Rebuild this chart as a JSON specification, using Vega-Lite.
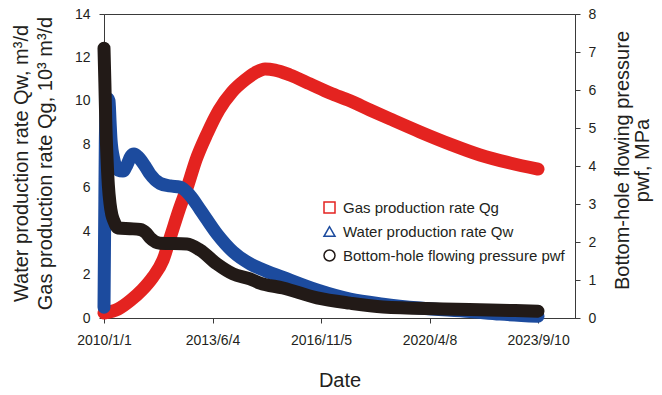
{
  "$schema": "https://vega.github.io/schema/vega-lite/v6.json",
  "width": 471,
  "height": 304,
  "autosize": {"type": "none"},
  "padding": {"left": 104, "top": 14, "right": 87, "bottom": 77},
  "background": "white",
  "config": {
    "font": "Liberation Sans",
    "view": {"stroke": "#3a3a3a", "strokeWidth": 1},
    "axis": {
      "domainColor": "#3a3a3a",
      "tickColor": "#3a3a3a",
      "labelColor": "#231f20",
      "titleColor": "#231f20",
      "labelFont": "Liberation Sans",
      "titleFont": "Liberation Sans",
      "labelFontSize": 14,
      "titleFontSize": 20,
      "titleFontWeight": "normal",
      "grid": false,
      "tickSize": 5
    },
    "legend": {
      "labelFont": "Liberation Sans",
      "labelFontSize": 15,
      "labelColor": "#231f20"
    }
  },
  "data": {
    "values": [
      {"series": "gas", "days": 0, "value": 0.23},
      {"series": "gas", "days": 161, "value": 0.41},
      {"series": "gas", "days": 311, "value": 0.83},
      {"series": "gas", "days": 438, "value": 1.29},
      {"series": "gas", "days": 564, "value": 1.89},
      {"series": "gas", "days": 680, "value": 2.67},
      {"series": "gas", "days": 772, "value": 3.82},
      {"series": "gas", "days": 864, "value": 4.97},
      {"series": "gas", "days": 968, "value": 6.13},
      {"series": "gas", "days": 1060, "value": 7.28},
      {"series": "gas", "days": 1187, "value": 8.48},
      {"series": "gas", "days": 1325, "value": 9.58},
      {"series": "gas", "days": 1475, "value": 10.41},
      {"series": "gas", "days": 1624, "value": 10.96},
      {"series": "gas", "days": 1740, "value": 11.29},
      {"series": "gas", "days": 1855, "value": 11.47},
      {"series": "gas", "days": 1970, "value": 11.42},
      {"series": "gas", "days": 2143, "value": 11.19},
      {"series": "gas", "days": 2373, "value": 10.78},
      {"series": "gas", "days": 2604, "value": 10.36},
      {"series": "gas", "days": 2834, "value": 10.0},
      {"series": "gas", "days": 3064, "value": 9.58},
      {"series": "gas", "days": 3295, "value": 9.17},
      {"series": "gas", "days": 3640, "value": 8.57},
      {"series": "gas", "days": 3986, "value": 8.01},
      {"series": "gas", "days": 4332, "value": 7.51},
      {"series": "gas", "days": 4677, "value": 7.14},
      {"series": "gas", "days": 5000, "value": 6.86},

      {"series": "water", "days": 0, "value": 0.5},
      {"series": "water", "days": 5, "value": 3.0},
      {"series": "water", "days": 10, "value": 5.5},
      {"series": "water", "days": 15, "value": 8.0},
      {"series": "water", "days": 25, "value": 9.6},
      {"series": "water", "days": 45, "value": 10.1},
      {"series": "water", "days": 58, "value": 10.0},
      {"series": "water", "days": 69, "value": 9.12},
      {"series": "water", "days": 81, "value": 8.2},
      {"series": "water", "days": 115, "value": 7.28},
      {"series": "water", "days": 161, "value": 6.82},
      {"series": "water", "days": 219, "value": 6.77},
      {"series": "water", "days": 265, "value": 7.05},
      {"series": "water", "days": 311, "value": 7.46},
      {"series": "water", "days": 346, "value": 7.55},
      {"series": "water", "days": 392, "value": 7.42},
      {"series": "water", "days": 472, "value": 7.0},
      {"series": "water", "days": 530, "value": 6.63},
      {"series": "water", "days": 645, "value": 6.2},
      {"series": "water", "days": 760, "value": 6.08},
      {"series": "water", "days": 875, "value": 6.03},
      {"series": "water", "days": 990, "value": 5.65},
      {"series": "water", "days": 1106, "value": 5.0},
      {"series": "water", "days": 1302, "value": 3.87},
      {"series": "water", "days": 1486, "value": 3.05},
      {"series": "water", "days": 1682, "value": 2.5},
      {"series": "water", "days": 1797, "value": 2.28},
      {"series": "water", "days": 2062, "value": 1.87},
      {"series": "water", "days": 2454, "value": 1.29},
      {"series": "water", "days": 2834, "value": 0.87},
      {"series": "water", "days": 3214, "value": 0.64},
      {"series": "water", "days": 3640, "value": 0.46},
      {"series": "water", "days": 4216, "value": 0.3},
      {"series": "water", "days": 4562, "value": 0.18},
      {"series": "water", "days": 5000, "value": 0.08},

      {"series": "pressure", "days": 0, "value": 7.1},
      {"series": "pressure", "days": 10, "value": 6.2},
      {"series": "pressure", "days": 20, "value": 5.2},
      {"series": "pressure", "days": 35, "value": 4.2},
      {"series": "pressure", "days": 50, "value": 3.5},
      {"series": "pressure", "days": 70, "value": 3.0},
      {"series": "pressure", "days": 90, "value": 2.72},
      {"series": "pressure", "days": 115, "value": 2.55},
      {"series": "pressure", "days": 161, "value": 2.37},
      {"series": "pressure", "days": 300, "value": 2.35},
      {"series": "pressure", "days": 415, "value": 2.33},
      {"series": "pressure", "days": 484, "value": 2.24},
      {"series": "pressure", "days": 530, "value": 2.11},
      {"series": "pressure", "days": 645, "value": 1.97},
      {"series": "pressure", "days": 956, "value": 1.95},
      {"series": "pressure", "days": 1106, "value": 1.79},
      {"series": "pressure", "days": 1302, "value": 1.42},
      {"series": "pressure", "days": 1486, "value": 1.16},
      {"series": "pressure", "days": 1682, "value": 1.03},
      {"series": "pressure", "days": 1797, "value": 0.92},
      {"series": "pressure", "days": 2062, "value": 0.79},
      {"series": "pressure", "days": 2454, "value": 0.53},
      {"series": "pressure", "days": 2834, "value": 0.39},
      {"series": "pressure", "days": 3214, "value": 0.29},
      {"series": "pressure", "days": 3905, "value": 0.24},
      {"series": "pressure", "days": 4447, "value": 0.21},
      {"series": "pressure", "days": 5000, "value": 0.18}
    ]
  },
  "encoding": {
    "x": {
      "field": "days",
      "type": "quantitative",
      "scale": {"domain": [0, 5426], "nice": false, "zero": false},
      "axis": {
        "values": [0, 1250, 2500, 3750, 5000],
        "labelExpr": "utcFormat(utc(2010, 0, 1 + datum.value), '%Y/%-m/%-d')",
        "labelFlush": false,
        "labelOverlap": false,
        "labelPadding": 10,
        "title": "Date",
        "titleY": 68,
        "titleBaseline": "alphabetic"
      }
    }
  },
  "layer": [
    {
      "encoding": {
        "y": {
          "field": "value",
          "type": "quantitative",
          "scale": {"domain": [0, 14], "nice": false},
          "axis": {
            "orient": "left",
            "values": [0, 2, 4, 6, 8, 10, 12, 14],
            "labelPadding": 9,
            "title": ["Water production rate Qw, m³/d", "Gas production rate Qg, 10³ m³/d"],
            "titleAngle": 270,
            "titleAlign": "center",
            "titleBaseline": "alphabetic",
            "titleX": -77,
            "titleY": 149,
            "titleLineHeight": 24
          }
        }
      },
      "layer": [
        {
          "transform": [{"filter": "datum.series === 'gas'"}],
          "mark": {"type": "line", "color": "#e42320", "strokeWidth": 13, "strokeCap": "round", "strokeJoin": "round", "interpolate": "monotone"}
        },
        {
          "transform": [{"filter": "datum.series === 'gas'"}],
          "mark": {"type": "point", "filled": false, "size": 121, "strokeWidth": 1.5, "opacity": 0},
          "encoding": {
            "color": {"field": "series", "type": "nominal", "scale": {"domain": ["gas", "water", "pressure"], "range": ["#e42320", "#1c4b9e", "#221a17"]}},
            "shape": {"field": "series", "type": "nominal", "scale": {"domain": ["gas", "water", "pressure"], "range": ["square", "triangle-up", "circle"]}}
          }
        },
        {
          "transform": [{"filter": "datum.series === 'water'"}],
          "mark": {"type": "line", "color": "#1c4b9e", "strokeWidth": 13, "strokeCap": "round", "strokeJoin": "round", "interpolate": "monotone"}
        },
        {
          "transform": [{"filter": "datum.series === 'water'"}],
          "mark": {"type": "point", "filled": false, "size": 121, "strokeWidth": 1.5, "opacity": 0},
          "encoding": {
            "color": {"field": "series", "type": "nominal", "scale": {"domain": ["gas", "water", "pressure"], "range": ["#e42320", "#1c4b9e", "#221a17"]}},
            "shape": {"field": "series", "type": "nominal", "scale": {"domain": ["gas", "water", "pressure"], "range": ["square", "triangle-up", "circle"]}}
          }
        }
      ]
    },
    {
      "encoding": {
        "y": {
          "field": "value",
          "type": "quantitative",
          "scale": {"domain": [0, 8], "nice": false},
          "axis": {
            "orient": "right",
            "values": [0, 1, 2, 3, 4, 5, 6, 7, 8],
            "labelPadding": 8,
            "title": ["Bottom-hole flowing pressure", "pwf, MPa"],
            "titleAngle": 270,
            "titleAlign": "center",
            "titleBaseline": "alphabetic",
            "titleX": 53,
            "titleY": 146,
            "titleLineHeight": 20
          }
        }
      },
      "layer": [
        {
          "transform": [{"filter": "datum.series === 'pressure'"}],
          "mark": {"type": "line", "color": "#221a17", "strokeWidth": 13, "strokeCap": "round", "strokeJoin": "round", "interpolate": "monotone"}
        },
        {
          "transform": [{"filter": "datum.series === 'pressure'"}],
          "mark": {"type": "point", "filled": false, "size": 121, "strokeWidth": 1.5, "opacity": 0},
          "encoding": {
            "color": {
              "field": "series",
              "type": "nominal",
              "scale": {"domain": ["gas", "water", "pressure"], "range": ["#e42320", "#1c4b9e", "#221a17"]},
              "legend": {
                "orient": "none",
                "legendX": 218,
                "legendY": 186,
                "title": null,
                "padding": 0,
                "rowPadding": 7,
                "labelOffset": 6,
                "labelLimit": 400,
                "symbolSize": 121,
                "symbolOpacity": 1,
                "symbolStrokeWidth": 1.5,
                "labelExpr": "datum.value === 'gas' ? 'Gas production rate Qg' : datum.value === 'water' ? 'Water production rate Qw' : 'Bottom-hole flowing pressure pwf'"
              }
            },
            "shape": {
              "field": "series",
              "type": "nominal",
              "scale": {"domain": ["gas", "water", "pressure"], "range": ["square", "triangle-up", "circle"]},
              "legend": {
                "orient": "none",
                "legendX": 218,
                "legendY": 186,
                "title": null,
                "padding": 0,
                "rowPadding": 7,
                "labelOffset": 6,
                "labelLimit": 400,
                "symbolSize": 121,
                "symbolOpacity": 1,
                "symbolStrokeWidth": 1.5,
                "labelExpr": "datum.value === 'gas' ? 'Gas production rate Qg' : datum.value === 'water' ? 'Water production rate Qw' : 'Bottom-hole flowing pressure pwf'"
              }
            }
          }
        }
      ]
    }
  ],
  "resolve": {"scale": {"y": "independent"}}
}
